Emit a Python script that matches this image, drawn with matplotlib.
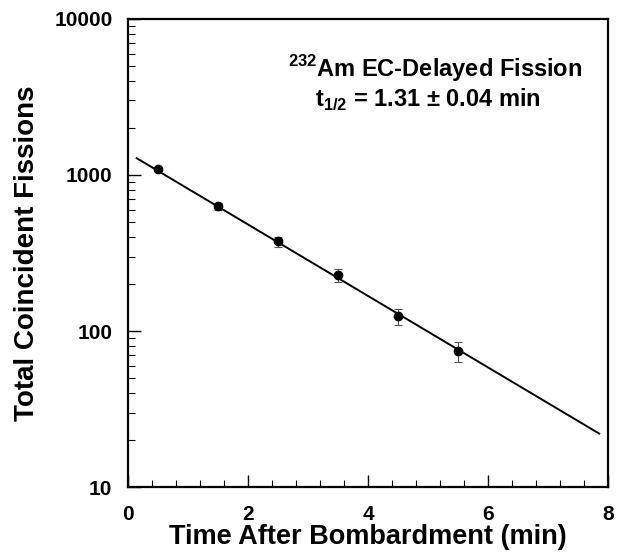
import numpy as np
import matplotlib
matplotlib.use('Agg')
import matplotlib.pyplot as plt
from matplotlib.ticker import MultipleLocator, LogLocator, NullFormatter

plt.rcParams['font.family'] = ['Liberation Sans', 'DejaVu Sans']
plt.rcParams['font.weight'] = 'bold'
plt.rcParams['mathtext.fontset'] = 'custom'
plt.rcParams['mathtext.rm'] = 'Liberation Sans:bold'
plt.rcParams['mathtext.bf'] = 'Liberation Sans:bold'

# measured points (time in min, counts, error)
time_min = [0.5, 1.5, 2.5, 3.5, 4.5, 5.5]
counts = [1090, 630, 375, 228, 124, 74]
errors = [25, 30, 28, 22, 15, 11]

# fitted decay line, end points
fit_t = [0.15, 7.85]
fit_n = [1280, 22]

fig = plt.figure(figsize=(6.2, 5.56), dpi=100)
ax = fig.add_axes([0.206, 0.124, 0.775, 0.842])

ax.plot(fit_t, fit_n, color='black', lw=1.4)
ax.errorbar(time_min, counts, yerr=errors, fmt='o', color='black', ms=6,
            ecolor='#555555', elinewidth=0.8, capsize=3, capthick=0.8)

ax.set_yscale('log')
ax.set_xlim(0, 8)
ax.set_ylim(10, 10000)
ax.xaxis.set_major_locator(MultipleLocator(2))
ax.xaxis.set_minor_locator(MultipleLocator(0.4))
ax.yaxis.set_minor_locator(LogLocator(base=10, subs=np.arange(2, 10)))
ax.yaxis.set_minor_formatter(NullFormatter())
ax.set_yticks([10, 100, 1000, 10000])
ax.set_yticklabels(['10', '100', '1000', '10000'])

ax.tick_params(which='both', direction='in', top=False, right=False, labelsize=15)
ax.tick_params(axis='x', pad=13)
ax.tick_params(axis='y', pad=11)
ax.tick_params(which='major', length=9, width=1)
ax.tick_params(which='minor', length=5, width=0.8)
for s in ax.spines.values():
    s.set_linewidth(1.6)
for lab in ax.get_xticklabels() + ax.get_yticklabels():
    lab.set_fontweight('bold')

ax.set_xlabel('Time After Bombardment (min)', fontsize=19.5, fontweight='bold', labelpad=0)
ax.set_ylabel('Total Coincident Fissions', fontsize=20, fontweight='bold', labelpad=10)

ax.text(0.64, 0.876, r'$^{232}$Am EC-Delayed Fission', transform=ax.transAxes,
        ha='center', va='baseline', fontsize=17, fontweight='bold')
ax.text(0.625, 0.812, r't$_{1/2}$ = 1.31 $\pm$ 0.04 min', transform=ax.transAxes,
        ha='center', va='baseline', fontsize=17, fontweight='bold')

fig.savefig('out.png', dpi=100)
